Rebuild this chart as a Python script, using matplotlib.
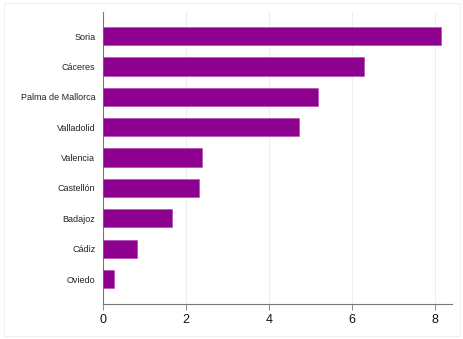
import matplotlib
matplotlib.use("Agg")
import matplotlib.pyplot as plt
from matplotlib.patches import Rectangle

plt.rcParams['font.family'] = ['Liberation Sans', 'DejaVu Sans']

cities = ["Soria", "Cáceres", "Palma de Mallorca", "Valladolid", "Valencia",
          "Castellón", "Badajoz", "Cádiz", "Oviedo"]
values = [8.13, 6.27, 5.18, 4.71, 2.39, 2.32, 1.66, 0.81, 0.27]
xticks = [0, 2, 4, 6, 8]

fig = plt.figure(figsize=(4.64, 3.39), dpi=100)
fig.patch.set_facecolor("white")
fig.add_artist(Rectangle((0.008, 0.008), 0.984, 0.984, transform=fig.transFigure,
                         fill=False, edgecolor="#F0F0F0", linewidth=0.8))

ax = fig.add_axes([103/464, (339-304)/339, (452-103)/464, (304-12)/339])
n = len(cities)
pos = [n - 1 - i for i in range(n)]
ax.barh(pos, values, height=0.6, color="#8E008E", edgecolor="#B040B0", linewidth=0.4, zorder=3)

ax.set_xlim(0, 8.4)
ax.set_ylim(-0.82, n - 1 + 0.79)
ax.set_yticks(pos)
ax.set_yticklabels(cities, fontsize=6.5, color="#222222")
ax.set_xticks(xticks)
ax.set_xticklabels([str(t) for t in xticks], fontsize=9, color="#111111")
ax.tick_params(axis='y', length=0, pad=5.5)
ax.tick_params(axis='x', length=4, width=0.6, color="#777777", pad=3)
ax.grid(axis='x', color="#EEEEEE", linewidth=0.8, zorder=0)
ax.set_axisbelow(True)
for s in ["top", "right"]:
    ax.spines[s].set_visible(False)
for s in ["left", "bottom"]:
    ax.spines[s].set_color("#777777")
    ax.spines[s].set_linewidth(0.8)

fig.savefig("out.png", dpi=100, facecolor="white")
